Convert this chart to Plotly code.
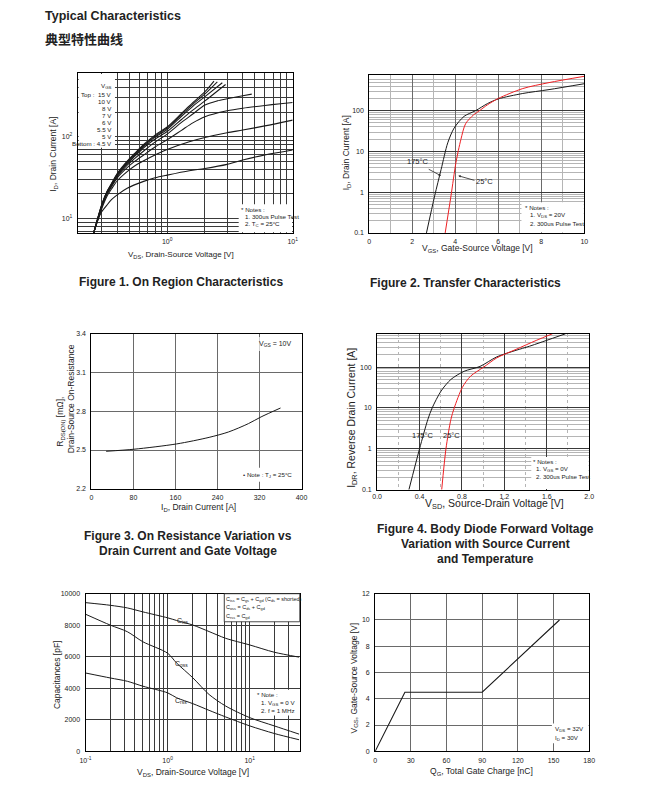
import plotly.graph_objects as go

W, H = 660, 788
FONT = "Arial, 'Liberation Sans', sans-serif"
BLACK = "#1a1a1a"
RED = "#ee2024"

# ---------------- Figure 1 : On Region Characteristics ----------------
f1_vds_15v = [0.26, 0.30, 0.33, 0.36, 0.40, 0.48, 0.55, 0.65, 0.80, 1.0, 1.3, 1.6, 2.0, 2.36]
f1_id_15v = [6.7, 14.6, 21.2, 26.8, 35.6, 50.4, 62.5, 80.5, 105, 132, 193, 261, 356, 480]
f1_vds_10v = [0.26, 0.30, 0.33, 0.36, 0.40, 0.48, 0.55, 0.65, 0.80, 1.0, 1.3, 1.6, 2.0, 2.51]
f1_id_10v = [6.7, 14.4, 21.0, 26.5, 35.0, 49.5, 61.0, 78.5, 102, 128, 186, 250, 335, 471]
f1_vds_8v = [0.26, 0.30, 0.33, 0.36, 0.40, 0.48, 0.55, 0.65, 0.80, 1.0, 1.3, 1.6, 2.0, 2.75]
f1_id_8v = [6.7, 14.2, 20.7, 26.0, 34.3, 48.5, 59.5, 76.5, 99, 123, 178, 236, 310, 458]
f1_vds_7v = [0.26, 0.30, 0.33, 0.36, 0.40, 0.48, 0.55, 0.65, 0.80, 1.0, 1.3, 1.6, 2.0, 2.92]
f1_id_7v = [6.7, 14.0, 20.3, 25.5, 33.5, 47.0, 57.5, 73.5, 94, 116, 163, 212, 275, 437]
f1_vds_6v = [0.26, 0.30, 0.33, 0.36, 0.40, 0.48, 0.55, 0.65, 0.80, 1.0, 1.3, 1.6, 2.0, 2.5, 3.0, 4.0, 4.72]
f1_id_6v = [6.7, 13.8, 20.0, 25.0, 32.5, 45.0, 54.0, 67.0, 86, 108, 150, 190, 245, 275, 292, 318, 333]
f1_vds_5v5 = [0.26, 0.30, 0.33, 0.36, 0.40, 0.48, 0.55, 0.65, 0.80, 1.0, 1.3, 1.6, 2.0, 3.0, 4.0, 6.0, 8.0, 10.0]
f1_id_5v5 = [6.7, 13.5, 19.5, 24.5, 31.5, 42.0, 50.0, 60.0, 75, 92, 120, 148, 176, 208, 224, 242, 254, 263]
f1_vds_5v = [0.26, 0.30, 0.33, 0.36, 0.40, 0.48, 0.55, 0.65, 0.80, 1.0, 1.5, 2.0, 3.0, 4.0, 6.0, 10.0]
f1_id_5v = [6.7, 13.0, 18.5, 23.0, 29.0, 37.5, 44.0, 51.0, 60, 70, 87, 98, 112, 121, 136, 160]
f1_vds_4v5 = [0.26, 0.28, 0.30, 0.33, 0.36, 0.40, 0.48, 0.65, 0.80, 1.0, 1.5, 2.0, 3.0, 4.0, 6.0, 10.0]
f1_id_4v5 = [6.7, 9.5, 12.0, 14.5, 17.0, 19.5, 23.5, 28.5, 31.5, 34, 38.5, 41, 46, 52, 60, 69]
f1_legend = ["15 V", "10 V", "8 V", "7 V", "6 V", "5.5 V", "5 V", "4.5 V"]
f1_xticks = [1, 10]
f1_xticktext = ["10<sup>0</sup>", "10<sup>1</sup>"]
f1_xgrid = [0.3, 0.4, 0.5, 0.6, 0.7, 0.8, 0.9, 2, 3, 4, 5, 6, 7, 8, 9]
f1_yticks = [10, 100]
f1_yticktext = ["10<sup>1</sup>", "10<sup>2</sup>"]
f1_ygrid = [7, 8, 9, 20, 30, 40, 50, 60, 70, 80, 90, 200, 300, 400, 500]

# ---------------- Figure 2 : Transfer Characteristics ----------------
f2_vgs_175 = [2.66, 3.04, 3.34, 3.65, 3.95, 4.41, 4.94, 5.5, 6.0, 7.14, 8.36, 10.0]
f2_id_175 = [0.1, 0.81, 3.6, 16.3, 37.8, 72.8, 100, 150, 195, 265, 330, 460]
f2_vgs_25 = [3.53, 3.8, 4.03, 4.26, 4.48, 4.86, 5.1, 5.5, 6.0, 7.14, 8.36, 10.0]
f2_id_25 = [0.1, 0.81, 5.3, 19.6, 48, 80, 98, 140, 200, 350, 490, 700]
f2_xticks = [0, 2, 4, 6, 8, 10]
f2_xminor = [1, 3, 5, 7, 9]
f2_yticks = [0.1, 1, 10, 100]
f2_yticktext = ["0.1", "1", "10", "100"]
f2_yminor = [m * d for d in (0.1, 1, 10, 100) for m in range(2, 10)]

# ---------------- Figure 3 : On Resistance ----------------
f3_id = [28, 81, 162, 224, 261, 299, 323, 360]
f3_rds = [2.49, 2.506, 2.547, 2.598, 2.64, 2.705, 2.757, 2.826]
f3_xticks = [0, 80, 160, 240, 320, 400]
f3_yticks = [2.2, 2.5, 2.8, 3.1, 3.4]

# ---------------- Figure 4 : Body Diode ----------------
f4_vsd_175 = [0.30, 0.40, 0.479, 0.519, 0.603, 0.696, 0.82, 0.97, 1.128, 1.31, 1.437, 1.777]
f4_idr_175 = [0.1, 1.0, 5.3, 10, 26, 50, 79, 104, 178, 258, 325, 656]
f4_vsd_25 = [0.609, 0.649, 0.696, 0.727, 0.804, 0.881, 1.005, 1.128, 1.31, 1.5, 1.654]
f4_idr_25 = [0.1, 1.0, 5.3, 10, 32, 60, 100, 168, 272, 450, 656]
f4_xticks = [0.0, 0.4, 0.8, 1.2, 1.6, 2.0]
f4_xticktext = ["0.0", "0.4", "0.8", "1.2", "1.6", "2.0"]
f4_xminor = [0.2, 0.6, 1.0, 1.4, 1.8]
f4_yticks = [0.1, 1, 10, 100]
f4_yticktext = ["0.1", "1", "10", "100"]
f4_yminor = [m * d for d in (0.1, 1, 10, 100) for m in range(2, 10)]

# ---------------- Figure 5 : Capacitance ----------------
f5_vds = [0.1, 0.2, 0.323, 0.5, 1.0, 1.29, 2.04, 3.2, 5.1, 10, 19.9, 40]
f5_ciss = [9434, 9266, 9098, 8847, 8470, 8300, 8008, 7600, 7170, 6750, 6289, 5975]
f5_coss = [8700, 8008, 7589, 6950, 6226, 5597, 4654, 3606, 2872, 2138, 1614, 1090]
f5_crss = [4969, 4654, 4444, 4130, 3711, 3396, 3019, 2600, 2180, 1614, 1132, 734]
f5_xticks = [0.1, 1, 10]
f5_xticktext = ["10<sup>-1</sup>", "10<sup>0</sup>", "10<sup>1</sup>"]
f5_xgrid = [0.2, 0.3, 0.4, 0.5, 0.6, 0.7, 0.8, 0.9, 2, 3, 4, 5, 6, 7, 8, 9, 20, 30, 40]
f5_yticks = [0, 2000, 4000, 6000, 8000, 10000]
f5_yticktext = ["0", "2000", "4000", "6000", "8000", "10000"]

# ---------------- Figure 6 : Gate Charge ----------------
f6_qg = [0, 25, 90, 155]
f6_vgs = [0, 4.5, 4.5, 10]
f6_xticks = [0, 30, 60, 90, 120, 150, 180]
f6_yticks = [0, 2, 4, 6, 8, 10, 12]


def PX(x):
    return x / W


def PY(y):
    return 1 - y / H


def dom_x(a, b):
    return [PX(a), PX(b)]


def dom_y(top, bottom):
    return [PY(bottom), PY(top)]


def base_axis(domain, anchor, **kw):
    d = dict(domain=domain, anchor=anchor, showline=True, linecolor="black", linewidth=1,
             mirror=True, ticks="", zeroline=False, showgrid=True, gridwidth=0.8,
             tickfont=dict(size=7, color="#222", family=FONT), fixedrange=True)
    d.update(kw)
    return d


fig = go.Figure()


def line(x, y, xa, ya, color=BLACK, width=1.0):
    fig.add_trace(go.Scatter(x=x, y=y, mode="lines", xaxis=xa, yaxis=ya, showlegend=False,
                             line=dict(color=color, width=width, shape="spline", smoothing=0.8),
                             hoverinfo="skip"))


for vx, iy in [(f1_vds_15v, f1_id_15v), (f1_vds_10v, f1_id_10v), (f1_vds_8v, f1_id_8v),
               (f1_vds_7v, f1_id_7v), (f1_vds_6v, f1_id_6v), (f1_vds_5v5, f1_id_5v5),
               (f1_vds_5v, f1_id_5v), (f1_vds_4v5, f1_id_4v5)]:
    line(vx, iy, "x", "y", width=1.1)
line(f2_vgs_175, f2_id_175, "x2", "y2")
line(f2_vgs_25, f2_id_25, "x2", "y2", color=RED)
line(f3_id, f3_rds, "x3", "y3")
line(f4_vsd_175, f4_idr_175, "x4", "y4")
line(f4_vsd_25, f4_idr_25, "x4", "y4", color=RED)
line(f5_vds, f5_ciss, "x5", "y5")
line(f5_vds, f5_coss, "x5", "y5")
line(f5_vds, f5_crss, "x5", "y5")
fig.add_trace(go.Scatter(x=f6_qg, y=f6_vgs, mode="lines", xaxis="x6", yaxis="y6", showlegend=False,
                         line=dict(color=BLACK, width=1.1), hoverinfo="skip"))

DARK = "#3a3a3a"
MID = "#6a6a6a"
LIGHT = "#b5b5b5"

layout = dict(
    width=W, height=H, margin=dict(l=0, r=0, t=0, b=0),
    paper_bgcolor="white", plot_bgcolor="white",
    font=dict(family=FONT, color="#222"),
    showlegend=False,
)

layout["xaxis"] = base_axis(dom_x(73, 292), "y", type="log", range=[-0.713, 1.0],
                            tickmode="array", tickvals=f1_xticks, ticktext=f1_xticktext,
                            gridcolor=DARK, ticklabelstandoff=2,
                            minor=dict(tickvals=f1_xgrid, showgrid=True, gridcolor=DARK, gridwidth=0.8))
layout["yaxis"] = base_axis(dom_y(70, 231), "x", type="log", range=[0.824, 2.776],
                            tickmode="array", tickvals=f1_yticks, ticktext=f1_yticktext,
                            gridcolor=DARK, ticklabelstandoff=3,
                            minor=dict(tickvals=f1_ygrid, showgrid=True, gridcolor=DARK, gridwidth=0.8))
layout["xaxis2"] = base_axis(dom_x(370, 589), "y2", range=[0, 10], tickmode="array",
                             tickvals=f2_xticks, gridcolor=MID, ticklabelstandoff=2,
                             minor=dict(tickvals=f2_xminor, showgrid=True, gridcolor=LIGHT, gridwidth=0.8))
layout["yaxis2"] = base_axis(dom_y(72, 231), "x2", type="log", range=[-1, 2.868], tickmode="array",
                             tickvals=f2_yticks, ticktext=f2_yticktext, gridcolor=DARK, ticklabelstandoff=3,
                             minor=dict(tickvals=f2_yminor, showgrid=True, gridcolor=LIGHT, gridwidth=0.8))
layout["xaxis3"] = base_axis(dom_x(87, 301), "y3", range=[0, 400], tickmode="array",
                             tickvals=f3_xticks, gridcolor=MID, ticklabelstandoff=2)
layout["yaxis3"] = base_axis(dom_y(333, 489), "x3", range=[2.2, 3.4], tickmode="array",
                             tickvals=f3_yticks, tickformat=".1f", gridcolor=MID, ticklabelstandoff=3)
layout["xaxis4"] = base_axis(dom_x(378, 594), "y4", range=[0, 2.0], tickmode="array",
                             tickvals=f4_xticks, ticktext=f4_xticktext, gridcolor=DARK, ticklabelstandoff=0,
                             minor=dict(tickvals=f4_xminor, showgrid=True, gridcolor=LIGHT, gridwidth=0.8, griddash="dot"))
layout["yaxis4"] = base_axis(dom_y(333, 490), "x4", type="log", range=[-1, 2.81], tickmode="array",
                             tickvals=f4_yticks, ticktext=f4_yticktext, gridcolor=DARK, ticklabelstandoff=3,
                             minor=dict(tickvals=f4_yminor, showgrid=True, gridcolor=LIGHT, gridwidth=0.8))
layout["xaxis5"] = base_axis(dom_x(81, 299), "y5", type="log", range=[-1, 1.608], tickmode="array",
                             tickvals=f5_xticks, ticktext=f5_xticktext, gridcolor=DARK, ticklabelstandoff=2,
                             minor=dict(tickvals=f5_xgrid, showgrid=True, gridcolor=DARK, gridwidth=0.8))
layout["yaxis5"] = base_axis(dom_y(595, 754), "x5", range=[0, 10000], tickmode="array",
                             tickvals=f5_yticks, ticktext=f5_yticktext, gridcolor=DARK, ticklabelstandoff=3)
layout["xaxis6"] = base_axis(dom_x(376, 594), "y6", range=[0, 180], tickmode="array",
                             tickvals=f6_xticks, gridcolor=MID, ticklabelstandoff=2)
layout["yaxis6"] = base_axis(dom_y(595, 754), "x6", range=[0, 12], tickmode="array",
                             tickvals=f6_yticks, gridcolor=MID, ticklabelstandoff=3)

fig.update_layout(**layout)

anns = []


def text(x, y, t, size=8, xanchor="center", angle=0, color="#222", family=FONT):
    anns.append(dict(x=PX(x), y=PY(y), xref="paper", yref="paper", text=t, showarrow=False,
                     xanchor=xanchor, yanchor="middle", textangle=angle, borderpad=0, borderwidth=0,
                     font=dict(size=size, color=color, family=family)))


text(40, 12, "<b>Typical Characteristics</b>", size=12.5, xanchor="left")
text(40, 35, "<b>典型特性曲线</b>", size=13, xanchor="left", family="'Noto Sans CJK SC', sans-serif")

text(178, 280, "<b>Figure 1. On Region Characteristics</b>", size=12)
text(468, 281, "<b>Figure 2. Transfer Characteristics</b>", size=12)
text(185, 537, "<b>Figure 3. On Resistance Variation vs</b>", size=12)
text(185, 552, "<b>Drain Current and Gate Voltage</b>", size=12)
text(488, 530, "<b>Figure 4. Body Diode Forward Voltage</b>", size=12)
text(488, 545, "<b>Variation with Source Current</b>", size=12)
text(488, 560, "<b>and Temperature</b>", size=12)

AT = 8.5
text(49, 152, "I<sub>D</sub>, Drain Current [A]", size=AT, angle=-90)
text(178, 253, "V<sub>DS</sub>, Drain-Source Voltage [V]", size=8)
text(347, 150, "I<sub>D</sub>, Drain Current [A]", size=AT, angle=-90)
text(480, 247, "V<sub>GS</sub>, Gate-Source Voltage [V]", size=AT)
text(55.5, 421, "R<sub>DS(ON)</sub> [mΩ],", size=AT, angle=-90)
text(67, 398, "Drain-Source On-Resistance", size=AT, angle=-90)
text(196, 508, "I<sub>D</sub>, Drain Current [A]", size=AT)
text(353, 418, "I<sub>DR</sub>, Reverse Drain Current [A]", size=10.5, angle=-90)
text(498, 504, "V<sub>SD</sub>, Source-Drain Voltage [V]", size=10.5)
text(52, 677, "Capacitances [pF]", size=AT, angle=-90)
text(190, 775, "V<sub>DS</sub>, Drain-Source Voltage [V]", size=AT)
text(355, 680, "V<sub>GS</sub>, Gate-Source Voltage [V]", size=AT, angle=-90)
text(484, 774, "Q<sub>G</sub>, Total Gate Charge [nC]", size=AT)

shapes = []


def box(x0, y0, x1, y1, border=None):
    shapes.append(dict(type="rect", xref="paper", yref="paper", x0=PX(x0), x1=PX(x1), y0=PY(y1), y1=PY(y0),
                       fillcolor="white", layer="above",
                       line=dict(color=border if border else "rgba(0,0,0,0)", width=0.8)))


box(74, 70.6, 111, 145)
box(237, 202, 291.4, 230.4)
box(525, 200, 588.4, 230.4)
box(258, 336, 300.4, 350)
box(256, 468, 300.4, 482)
box(535, 457, 593.4, 489.4)
box(222.3, 595, 299.2, 623.3, border="#222")
box(253, 692, 298.4, 718)
box(556, 726, 593.4, 746)

LS = 6.2
text(108, 82.5, "V<sub>GS</sub>", size=LS, xanchor="right")
text(76, 91.7, "Top :", size=LS, xanchor="left")
for i, lab in enumerate(f1_legend[:-1]):
    text(108, 91.7 + i * 7.05, lab, size=LS, xanchor="right")
text(108, 141, "Bottom : " + f1_legend[-1], size=LS, xanchor="right")

text(239, 207, "* Notes :", size=LS, xanchor="left")
text(243, 214.5, "1. 300us Pulse Test", size=LS, xanchor="left")
text(243, 222, "2. T<sub>C</sub> = 25°C", size=LS, xanchor="left")

text(529, 205, "* Notes :", size=LS, xanchor="left")
text(534, 213, "1. V<sub>DS</sub> = 20V", size=LS, xanchor="left")
text(534, 221, "2. 300us Pulse Test", size=LS, xanchor="left")
text(420, 159, "175°C", size=7.5)
text(487, 179.5, "25°C", size=7.5)
for tipx, tipy, tailx, taily in [(443, 173.3, 429.3, 166), (460.7, 173.3, 478.3, 178.3)]:
    anns.append(dict(x=PX(tipx), y=PY(tipy), xref="paper", yref="paper", text="", showarrow=True,
                     ax=tailx - tipx, ay=taily - tipy, arrowhead=2, arrowsize=0.6, arrowwidth=0.8,
                     arrowcolor="#222"))

text(291, 343.5, "V<sub>GS</sub> = 10V", size=7, xanchor="right")
text(291, 475, "• Note : T<sub>J</sub> = 25°C", size=LS, xanchor="right")

text(537, 461.5, "* Notes :", size=LS, xanchor="left")
text(540, 469, "1. V<sub>GS</sub> = 0V", size=LS, xanchor="left")
text(540, 477, "2. 300us Pulse Test", size=LS, xanchor="left")
text(425, 435, "175°C", size=7.5)
text(454, 435, "25°C", size=7.5)

text(224, 600.5, "C<sub>iss</sub> = C<sub>gs</sub> + C<sub>gd</sub> (C<sub>ds</sub> = shorted)", size=5.5, xanchor="left")
text(224, 609.3, "C<sub>oss</sub> = C<sub>ds</sub> + C<sub>gd</sub>", size=5.5, xanchor="left")
text(224, 618, "C<sub>rss</sub> = C<sub>gd</sub>", size=5.5, xanchor="left")
text(180, 623, "C<sub>iss</sub>", size=7)
text(179, 666, "C<sub>oss</sub>", size=7)
text(178, 703, "C<sub>rss</sub>", size=7)
text(256, 697, "* Note :", size=LS, xanchor="left")
text(260, 705, "1. V<sub>GS</sub> = 0 V", size=LS, xanchor="left")
text(260, 713, "2. f = 1 MHz", size=LS, xanchor="left")

text(559, 732, "V<sub>DS</sub> = 32V", size=LS, xanchor="left")
text(559, 741, "I<sub>D</sub> = 30V", size=LS, xanchor="left")

fig.update_layout(annotations=anns, shapes=shapes)
fig.write_html("out.html", config={"displayModeBar": False},
               post_script="document.body.style.margin='0px';document.body.style.overflow='hidden';")
